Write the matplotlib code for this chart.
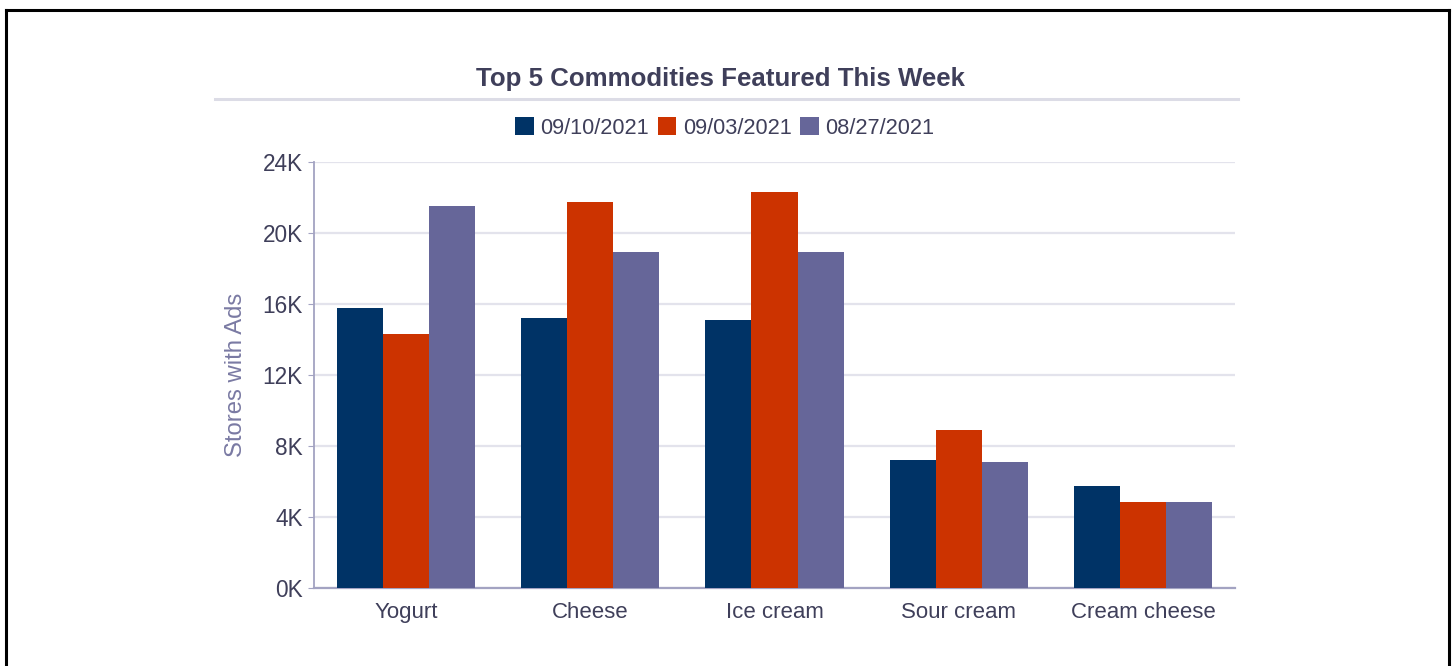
import matplotlib
matplotlib.use("Agg")
import numpy as np
from matplotlib import pyplot as plt
from matplotlib.lines import Line2D
from matplotlib.ticker import FuncFormatter

plt.rcParams['font.family'] = ['Liberation Sans', 'DejaVu Sans']

categories = ["Yogurt", "Cheese", "Ice cream", "Sour cream", "Cream cheese"]
series_names = ["09/10/2021", "09/03/2021", "08/27/2021"]
week_0910 = [15800, 15200, 15100, 7200, 5750]
week_0903 = [14300, 21750, 22300, 8900, 4850]
week_0827 = [21500, 18950, 18950, 7100, 4850]
colors = ["#003366", "#cc3300", "#666699"]

W, H = 1452, 666
fig = plt.figure(figsize=(W / 100, H / 100), dpi=100)

# outer black frame (open at the bottom)
fig.add_artist(Line2D([6 / W, 6 / W], [0, 1 - 10 / H], transform=fig.transFigure, color="black", lw=2.2))
fig.add_artist(Line2D([6 / W, 1449 / W], [1 - 10 / H, 1 - 10 / H], transform=fig.transFigure, color="black", lw=2.2))
fig.add_artist(Line2D([1449 / W, 1449 / W], [0, 1 - 10 / H], transform=fig.transFigure, color="black", lw=2.2))

ax = fig.add_axes([314 / W, (H - 588) / H, 921 / W, 426 / H])

x = np.arange(len(categories))
bw = 0.25
for i, vals in enumerate([week_0910, week_0903, week_0827]):
    ax.bar(x + (i - 1) * bw, vals, width=bw, color=colors[i], label=series_names[i], zorder=3)

ax.set_xlim(-0.5, len(categories) - 0.5)
ax.set_ylim(0, 24000)
ax.set_yticks(np.arange(0, 24001, 4000))
ax.yaxis.set_major_formatter(FuncFormatter(lambda v, p: f"{int(v / 1000)}K"))
ax.set_xticks(x)
ax.set_xticklabels(categories)

ax.grid(axis="y", color="#e3e3ec", lw=1.6, zorder=0)
for s in ["top", "right"]:
    ax.spines[s].set_visible(False)
ax.spines["left"].set_color("#a3a3c2")
ax.spines["bottom"].set_color("#a3a3c2")
ax.spines["left"].set_linewidth(1.3)
ax.spines["bottom"].set_linewidth(1.6)
ax.tick_params(axis="y", colors="#a3a3c2", labelcolor="#3f3f5a", labelsize=16.3, length=4, pad=4)
ax.tick_params(axis="x", length=0, labelcolor="#3f3f5a", labelsize=16, pad=10)
ax.set_ylabel("Stores with Ads", fontsize=17.2, color="#7a7aa3", labelpad=11)

fig.text(720 / W, 1 - 79 / H, "Top 5 Commodities Featured This Week", ha="center", va="center",
         fontsize=18.6, fontweight="bold", color="#3f3f5a")
fig.add_artist(Line2D([215 / W, 1238 / W], [1 - 98.5 / H, 1 - 98.5 / H], transform=fig.transFigure,
                      color="#dcdce6", lw=2.2))

leg = fig.legend(loc="center", bbox_to_anchor=(725 / W, 1 - 128 / H), ncol=3, frameon=False,
                 fontsize=15.7, handlelength=0.85, handleheight=0.85, handletextpad=0.3,
                 columnspacing=0.4, borderpad=0)
for t in leg.get_texts():
    t.set_color("#3f3f5a")

fig.savefig("out.png", dpi=100)
